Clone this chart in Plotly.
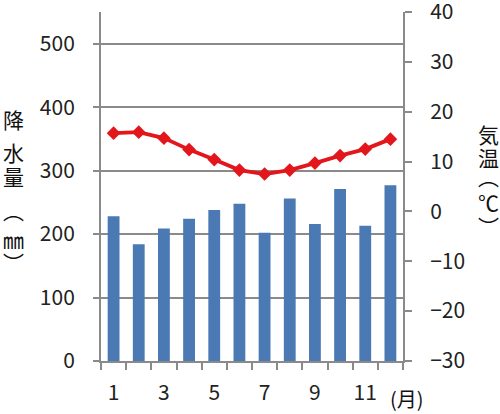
import plotly.graph_objects as go

months = list(range(1, 13))
precip = [228, 184, 209, 224, 238, 248, 202, 256, 216, 271, 213, 277]
temp = [15.7, 15.9, 14.7, 12.4, 10.4, 8.3, 7.5, 8.3, 9.7, 11.2, 12.5, 14.5]
x_tick_labels = ["1", "3", "5", "7", "9", "11"]
x_tick_vals = [1, 3, 5, 7, 9, 11]
left_title_chars = ["降", "水", "量", "︵", "㎜", "︶"]
right_title_chars = ["気", "温", "︵", "℃", "︶"]

FONT = "Noto Sans CJK JP"
W, H = 500, 414
L, R, T, B = 101, 403, 12, 361  # plot area in px

def px_x(x):
    return (x - L) / (R - L)

def px_y(y):
    return (B - y) / (B - T)

fig = go.Figure()
fig.add_trace(go.Bar(x=months, y=precip, marker=dict(color="#4a79b4", line=dict(width=0)),
                     yaxis="y", showlegend=False))
fig.add_trace(go.Scatter(x=months, y=temp, mode="lines+markers", yaxis="y2",
                         line=dict(color="#e3161c", width=3.8),
                         marker=dict(symbol="diamond", size=10.5, color="#e3161c"),
                         showlegend=False))

axis_gray = "#8a8a8a"
tick_font = dict(family=FONT, size=21, color="#222")

annotations = []
left_y = [119, 152, 176, 210, 239, 262]
for ch, yy in zip(left_title_chars, left_y):
    annotations.append(dict(text=ch, x=px_x(13), y=px_y(yy), xref="paper", yref="paper",
                            showarrow=False, font=dict(family=FONT, size=21, color="#111"),
                            xanchor="center", yanchor="middle"))
right_y = [134, 157, 176, 202, 226]
for ch, yy in zip(right_title_chars, right_y):
    annotations.append(dict(text=ch, x=px_x(488), y=px_y(yy), xref="paper", yref="paper",
                            showarrow=False, font=dict(family=FONT, size=21, color="#111"),
                            xanchor="center", yanchor="middle"))
annotations.append(dict(text="(月)", x=px_x(407), y=px_y(398), xref="paper", yref="paper",
                        showarrow=False, font=dict(family=FONT, size=20, color="#111"),
                        xanchor="center", yanchor="middle"))

fig.update_layout(
    width=W, height=H,
    margin=dict(l=L, r=W - R, t=T, b=H - B, pad=0, autoexpand=False),
    plot_bgcolor="white", paper_bgcolor="white",
    bargap=0.53,
    xaxis=dict(range=[0.5, 12.5], tickvals=x_tick_vals, ticktext=x_tick_labels,
               ticks="", showgrid=False, showline=True, linecolor=axis_gray, linewidth=2,
               tickfont=tick_font, ticklabelstandoff=12, zeroline=False, automargin=False,
               minor=dict(ticks="outside", tick0=0.5, dtick=1, ticklen=7,
                          tickcolor=axis_gray, tickwidth=1.5, showgrid=False)),
    yaxis=dict(range=[0, 550], tickvals=[0, 100, 200, 300, 400, 500],
               ticks="outside", ticklen=6, tickcolor=axis_gray, tickwidth=1.5,
               showline=True, linecolor=axis_gray, linewidth=2, automargin=False,
               showgrid=True, gridcolor=axis_gray, gridwidth=1.5, zeroline=False,
               tickfont=tick_font, ticklabelstandoff=14),
    yaxis2=dict(range=[-30, 40], tickvals=list(range(-30, 41, 10)), overlaying="y", side="right",
                ticks="outside", ticklen=7, tickcolor=axis_gray, tickwidth=1.5, automargin=False,
                showline=True, linecolor=axis_gray, linewidth=2, showgrid=False, zeroline=False,
                tickfont=tick_font, ticklabelstandoff=14, ticklabeloverflow="allow"),
    annotations=annotations,
)

fig.write_html("out.html", config={"displayModeBar": False},
               post_script="document.body.style.margin='0';")
